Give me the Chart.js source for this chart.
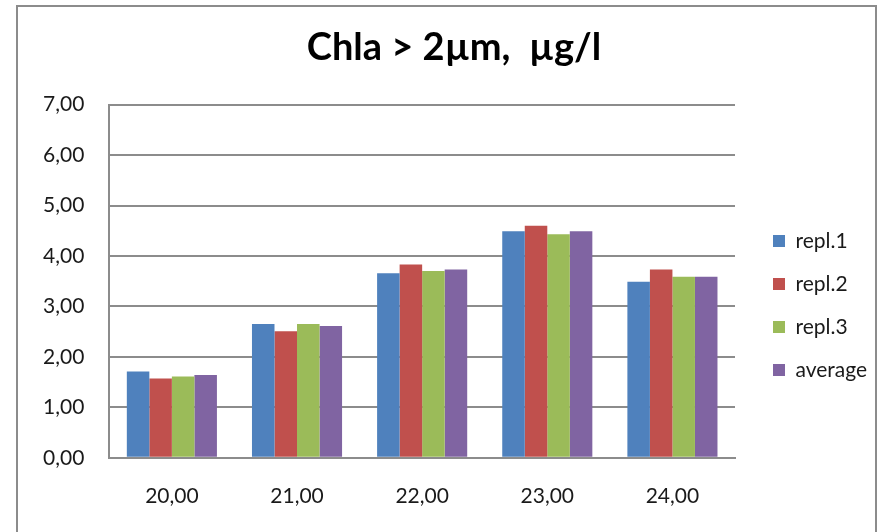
<!DOCTYPE html>
<html>
<head>
<meta charset="utf-8">
<script src="https://cdn.jsdelivr.net/npm/chart.js@4/dist/chart.umd.min.js"></script>
<style>
  html, body { margin: 0; padding: 0; background: #ffffff; }
  #wrap { width: 882px; height: 532px; position: relative; }
</style>
</head>
<body>
<div id="wrap"><canvas id="c" width="882" height="532"></canvas></div>
<script>
const titleText = "Chla > 2\u00b5m,  \u00b5g/l";
const categories = ["20,00", "21,00", "22,00", "23,00", "24,00"];
const seriesNames = ["repl.1", "repl.2", "repl.3", "average"];
const repl1 = [1.71, 2.65, 3.66, 4.49, 3.49];
const repl2 = [1.57, 2.51, 3.83, 4.60, 3.73];
const repl3 = [1.61, 2.65, 3.70, 4.43, 3.59];
const average = [1.64, 2.61, 3.73, 4.49, 3.59];
const yMin = 0, yMax = 7, yStep = 1;
const colors = ["#4F81BD", "#C0504D", "#9BBB59", "#8064A2"];

const FONT = "Lato, 'Open Sans', 'Liberation Sans', sans-serif";
const LEGEND_W = 155;   // legend box width (layout)
const LEGEND_DX = 16;   // extra inset of legend items
const LEGEND_DY = 61;   // vertical offset of legend items

const frame = {
  id: 'frame',
  beforeDraw(chart) {
    const ctx = chart.ctx;
    ctx.save();
    ctx.fillStyle = '#ffffff';
    ctx.fillRect(0, 0, chart.width, chart.height);
    ctx.strokeStyle = '#8c8c8c';
    ctx.lineWidth = 2;
    ctx.beginPath();
    ctx.moveTo(17, chart.height + 5);
    ctx.lineTo(17, 6);
    ctx.lineTo(876, 6);
    ctx.lineTo(876, chart.height + 5);
    ctx.stroke();
    ctx.restore();
  }
};

const legendTweak = {
  id: 'legendTweak',
  afterInit(chart) {
    const lg = chart.legend;
    if (!lg) return;
    const fit0 = lg.fit.bind(lg);
    lg.fit = function () {
      fit0();
      if (!this.isHorizontal()) this.width = LEGEND_W;
    };
    const draw0 = lg._draw.bind(lg);
    lg._draw = function () {
      const l = this.left, t = this.top;
      this.left += LEGEND_DX;
      this.top += LEGEND_DY;
      draw0();
      this.left = l;
      this.top = t;
    };
  }
};

const allSeries = [repl1, repl2, repl3, average];
new Chart(document.getElementById('c'), {
  type: 'bar',
  data: {
    labels: categories,
    datasets: allSeries.map((d, i) => ({
      label: seriesNames[i],
      data: d,
      backgroundColor: colors[i],
      borderWidth: 0,
      categoryPercentage: 0.72,
      barPercentage: 1.0
    }))
  },
  options: {
    responsive: false,
    animation: false,
    devicePixelRatio: 1,
    layout: { padding: { left: 18, right: -8, top: 15, bottom: -3 } },
    plugins: {
      title: {
        display: true,
        text: titleText,
        color: '#000000',
        font: { family: FONT, size: 38, weight: 'bold' },
        padding: { top: 10, bottom: 34 }
      },
      legend: {
        position: 'right',
        align: 'center',
        labels: {
          color: '#1a1a1a',
          font: { family: FONT, size: 21 },
          boxWidth: 12,
          boxHeight: 12,
          padding: 22
        }
      },
      tooltip: { enabled: false }
    },
    scales: {
      x: {
        grid: { display: false, drawTicks: false },
        border: { display: true, color: '#8c8c8c', width: 2 },
        ticks: { color: '#1a1a1a', font: { family: FONT, size: 21 }, padding: 26, maxRotation: 0, minRotation: 0 }
      },
      y: {
        min: yMin,
        max: yMax,
        grid: { color: '#8c8c8c', lineWidth: 2, drawTicks: false },
        border: { display: true, color: '#8c8c8c', width: 2 },
        ticks: {
          stepSize: yStep,
          color: '#1a1a1a',
          font: { family: FONT, size: 21 },
          padding: 25,
          callback: v => Number(v).toFixed(2).replace('.', ',')
        }
      }
    }
  },
  plugins: [frame, legendTweak]
});
</script>
</body>
</html>
